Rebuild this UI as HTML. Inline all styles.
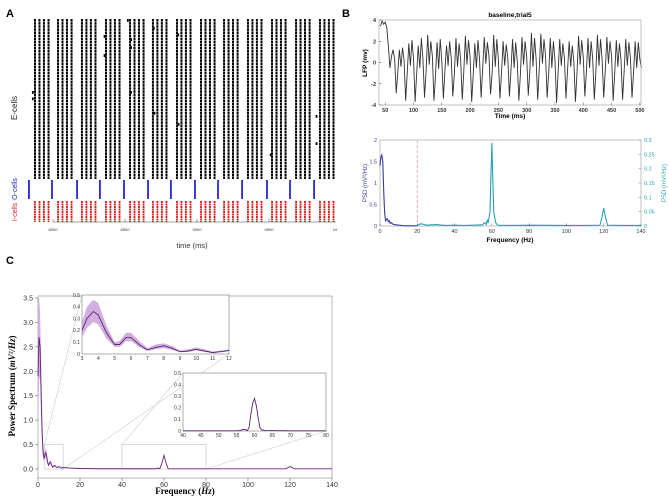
<!DOCTYPE html>
<html><head><meta charset="utf-8"><style>
html,body{margin:0;padding:0;background:#fff;}
svg{display:block;font-family:"Liberation Sans",sans-serif;}
</style></head><body>
<svg id="fig" width="669" height="499" viewBox="0 0 669 499" xmlns="http://www.w3.org/2000/svg">
<text x="6" y="17" font-size="11" font-weight="bold">A</text>
<text x="342" y="17" font-size="11" font-weight="bold">B</text>
<text x="6" y="264" font-size="11" font-weight="bold">C</text>
<text transform="translate(17,108) rotate(-90)" font-size="8" text-anchor="middle" fill="#222">E-cells</text>
<text transform="translate(17,189) rotate(-90)" font-size="7" text-anchor="middle" fill="#2222cc">O-cells</text>
<text transform="translate(17,212) rotate(-90)" font-size="7" text-anchor="middle" fill="#dd2222">I-cells</text>
<text x="192" y="248" font-size="7.5" text-anchor="middle" fill="#333">time (ms)</text>
<text x="510" y="17" font-size="6.5" font-weight="bold" text-anchor="middle">baseline,trial5</text>
<text x="510" y="118" font-size="6.5" font-weight="bold" text-anchor="middle">Time (ms)</text>
<text transform="translate(367,63) rotate(-90)" font-size="6.5" font-weight="bold" text-anchor="middle">LFP (mv)</text>
<text x="510" y="242" font-size="6.5" font-weight="bold" text-anchor="middle">Frequency (Hz)</text>
<text transform="translate(367,183) rotate(-90)" font-size="6" text-anchor="middle" fill="#3a3a9a">PSD (mV²/Hz)</text>
<text transform="translate(666,183) rotate(-90)" font-size="6" text-anchor="middle" fill="#2a9fb0">PSD (mV²/Hz)</text>
<text x="185" y="494" font-size="9" font-weight="bold" font-family="Liberation Serif,serif" text-anchor="middle">Frequency (<tspan font-style="italic">Hz</tspan>)</text>
<text transform="translate(15,386) rotate(-90)" font-size="9" font-weight="bold" font-family="Liberation Serif,serif" text-anchor="middle">Power Spectrum (<tspan font-style="italic">mV²/Hz</tspan>)</text>
</svg>
<script>
// ---- Panel A data ----
const eGroupStarts = [7875,8035,8201,8368,8535,8694,8861,9028,9188,9354,9521,9688,9854];
const eGroupOffsets = [0,31,62,94];
const oSpikes = [7833,7993,8167,8326,8493,8660,8819,8986,9146,9313,9486,9646,9813];
const rasterTicks = [8000,8500,9000,9500];
const rasterTickLabels = ["8000","8500","9000","9500"];
const strayE = [[7860,0.45],[7860,0.49],[8358,0.1],[8358,0.22],[8520,0.0],[8542,0.12],[8542,0.17],[8542,0.45],[8700,0.05],[8705,0.58],[8870,0.09],[8872,0.65],[9512,0.84],[9830,0.6],[9830,0.77]];
// ---- Panel B data ----
const lfpStart = 41.67, lfpStep = 2.7778;
const lfpValues = [3.4,3.9,3.6,3.8,3.3,1.5,-0.5,0.6,1.2,0.3,
-2.9,-0.9,1.2,-0.4,1.4,0.2, -3.6,-1.0,1.8,-0.3,2.1,0.4, -3.7,-1.1,1.6,-0.5,2.3,0.3, -3.3,-0.8,2.6,-0.2,2.0,0.6,
-3.6,-1.2,1.9,-0.6,2.2,0.1, -3.4,-0.7,1.6,-0.3,2.0,0.4, -3.2,-1.0,2.3,-0.4,1.8,0.2, -3.5,-0.8,2.5,-0.2,2.1,0.5,
-3.7,-1.1,1.8,-0.5,2.1,0.3, -3.3,-0.6,2.4,-0.1,1.9,0.6, -3.0,-1.0,2.6,-0.4,2.2,0.2, -3.4,-0.9,2.0,-0.3,1.7,0.4,
-3.2,-0.7,2.2,-0.5,1.9,0.1, -3.6,-1.1,2.4,-0.2,2.0,0.5, -3.1,-0.8,2.8,-0.4,2.3,0.3, -3.5,-0.6,2.7,-0.1,2.2,0.6,
-3.3,-1.0,2.3,-0.5,2.0,0.2, -3.8,-0.9,2.2,-0.3,1.8,0.4, -3.4,-0.7,2.0,-0.4,1.6,0.1, -3.7,-1.0,2.5,-0.2,2.1,0.5,
-3.2,-0.8,2.3,-0.5,2.0,0.3, -3.5,-0.9,2.6,-0.3,2.2,0.2, -3.3,-0.7,2.4,-0.1,2.0,0.6, -3.6,-1.0,2.1,-0.4,1.8,0.2,
-3.5,-0.8,2.2,-0.3,1.9,0.4, -3.3,-0.9,2.0,-0.5,1.9,0.3, -0.5];
const lfpYTicks = [4,2,0,-2,-4];
const lfpXTicks = [50,100,150,200,250,300,350,400,450,500];
const psdLowF = [0,0.5,1,1.5,2,2.5,3,3.5,4,4.5,5,5.5,6,7,8,10,12,15,20];
const psdLowV = [1.4,1.6,1.65,1.5,0.8,0.3,0.12,0.15,0.17,0.1,0.12,0.06,0.08,0.04,0.03,0.02,0.01,0.005,0.005];
const psdHighF = [20,22,25,30,35,40,45,50,55,56,57,57.5,58,59,60,61,62,63,70,80,100,110,118,119,120,121,122,130,140];
const psdHighV = [0.002,0.008,0.003,0.005,0.002,0.003,0.002,0.003,0.004,0.012,0.006,0.02,0.01,0.05,0.29,0.05,0.012,0.003,0.002,0.003,0.002,0.002,0.003,0.03,0.062,0.03,0.003,0.002,0.002];
const psdXTicks = [0,20,40,60,80,100,120,140];
const psdLeftTicks = [0,0.5,1,1.5,2];
const psdRightTicks = [0,0.05,0.1,0.15,0.2,0.25,0.3];
// ---- Panel C data ----
const specF = [0,0.5,1,1.5,2,2.5,3,3.5,4,4.5,5,5.5,6,6.5,7,8,9,10,11,12,15,20,30,56,57,58,59,60,61,62,100,118,119,120,121,122,140];
const specMean = [1.9,2.7,2.5,1.5,0.7,0.3,0.22,0.33,0.3,0.15,0.08,0.12,0.14,0.08,0.04,0.07,0.03,0.05,0.02,0.03,0.02,0.01,0.005,0.005,0.02,0.005,0.12,0.28,0.12,0.005,0.003,0.003,0.03,0.05,0.03,0.003,0.003];
const specUpper = [3.5,3.5,3.2,2.2,1.1,0.45,0.3,0.42,0.4,0.22,0.11,0.16,0.18,0.11,0.06,0.09,0.04,0.06,0.03,0.04,0.03,0.015,0.008,0.008,0.025,0.008,0.14,0.31,0.14,0.008,0.005,0.005,0.035,0.058,0.035,0.005,0.005];
const specLower = [1.0,1.8,1.9,1.0,0.4,0.2,0.15,0.25,0.2,0.1,0.06,0.09,0.1,0.05,0.025,0.05,0.02,0.04,0.012,0.02,0.012,0.006,0.003,0.003,0.015,0.003,0.1,0.25,0.1,0.003,0.001,0.001,0.025,0.045,0.025,0.001,0.001];
const specXTicks = [0,20,40,60,80,100,120,140];
const specYTicks = [0,0.5,1,1.5,2,2.5,3,3.5];
const inset1F = [3,3.3,3.7,4,4.5,5,5.3,5.7,6,6.5,7,7.5,8,8.5,9,9.5,10,10.5,11,11.5,12];
const inset1Mean = [0.2,0.3,0.36,0.33,0.18,0.08,0.08,0.14,0.14,0.08,0.035,0.055,0.07,0.05,0.02,0.025,0.04,0.025,0.012,0.02,0.03];
const inset1Upper = [0.27,0.4,0.46,0.43,0.24,0.1,0.11,0.18,0.18,0.11,0.05,0.08,0.09,0.07,0.03,0.04,0.055,0.04,0.02,0.03,0.04];
const inset1Lower = [0.14,0.22,0.27,0.25,0.13,0.06,0.06,0.11,0.11,0.06,0.025,0.04,0.05,0.035,0.014,0.018,0.03,0.018,0.008,0.014,0.022];
const inset1XTicks = [3,4,5,6,7,8,9,10,11,12];
const insetYTicks = [0,0.1,0.2,0.3,0.4,0.5];
const inset2F = [40,45,50,55,56,57,58,58.5,59,59.5,60,60.5,61,61.5,62,63,70,80];
const inset2V = [0.002,0.002,0.002,0.002,0.005,0.015,0.005,0.03,0.15,0.24,0.28,0.22,0.12,0.03,0.01,0.005,0.002,0.002];
const inset2XTicks = [40,45,50,55,60,65,70,75,80];

const NS = "http://www.w3.org/2000/svg";
const svg = document.getElementById('fig');
function mk(tag, attrs, parent){ const e=document.createElementNS(NS,tag); for(const k in attrs) e.setAttribute(k,attrs[k]); (parent||svg).appendChild(e); return e; }
function lin(d0,d1,r0,r1){ return v => r0 + (v-d0)*(r1-r0)/(d1-d0); }
function pts(xs,ys,sx,sy){ return xs.map((x,i)=>sx(x).toFixed(2)+','+sy(ys[i]).toFixed(2)).join(' '); }

// ---- Panel A ----
const ax = lin(8000,8500,53,125);
const gA = mk('g',{});


const clipA = mk('clipPath',{id:'clipA'}, gA);
mk('rect',{x:28,y:15,width:308,height:210}, clipA);
const gAi = mk('g',{'clip-path':'url(#clipA)'}, gA);
eGroupStarts.forEach((t,gi)=>{
  eGroupOffsets.forEach((o,j)=>{
    const x = ax(t+o);
    const l = mk('line',{x1:x,y1:19,x2:x,y2:179,stroke:'#000','stroke-width':2,'stroke-dasharray':'2.6 0.5'}, gAi);
    
    
    const r = mk('line',{x1:x,y1:201,x2:x,y2:222,stroke:'#e01818','stroke-width':1.8,'stroke-dasharray':'2 0.5'}, gAi);
    
    
  });
});
oSpikes.forEach(t=>{
  const x = ax(t);
  const l = mk('line',{x1:x,y1:180,x2:x,y2:199,stroke:'#1a1ad0','stroke-width':1.7}, gAi);
  
  
});
strayE.forEach(s=>{
  const r = mk('rect',{x:ax(s[0])-0.9,y:19+s[1]*160,width:1.8,height:2.8,fill:'#000'}, gAi);
  
  
});
const axA = mk('line',{x1:53,y1:222,x2:336,y2:222,stroke:'#444','stroke-width':0.6}, gA);


rasterTicks.forEach((t,i)=>{
  const x = ax(t);
  mk('line',{x1:x,y1:222,x2:x,y2:219,stroke:'#444','stroke-width':0.5}, gA);
  const tx = mk('text',{x:x,y:231,'font-size':4,'text-anchor':'middle',fill:'#333'}, gA);
  tx.textContent = rasterTickLabels[i];
  
  
});
const t10 = mk('text',{x:335,y:231,'font-size':4,'text-anchor':'middle',fill:'#333'}, gA);
t10.textContent='10';



// ---- Panel B top ----
const bx = lin(39,502,379,641), by = lin(-4,4,105,20);
const gB = mk('g',{});


const lfpT = lfpValues.map((v,i)=>lfpStart+i*lfpStep);
const lfpLine = mk('polyline',{points:pts(lfpT,lfpValues,bx,by),fill:'none',stroke:'#333','stroke-width':0.9}, gB);


const fB = mk('rect',{x:379,y:20,width:262,height:85,fill:'none',stroke:'#999','stroke-width':0.6}, gB);


lfpYTicks.forEach(v=>{
  const y=by(v);
  mk('line',{x1:379,y1:y,x2:381.5,y2:y,stroke:'#555','stroke-width':0.5}, gB);
  const t=mk('text',{x:376,y:y+2,'font-size':5.5,'text-anchor':'end','font-weight':'bold',fill:'#333'}, gB);
  t.textContent=v;
  
  
});
lfpXTicks.forEach(v=>{
  const x=bx(v);
  mk('line',{x1:x,y1:105,x2:x,y2:102.5,stroke:'#555','stroke-width':0.5}, gB);
  const t=mk('text',{x:x,y:112,'font-size':5.5,'text-anchor':'middle','font-weight':'bold',fill:'#333'}, gB);
  t.textContent=v;
  
  
});

// ---- Panel B bottom ----
const px = lin(0,140,380,641), pyL = lin(0,2,226,140), pyR = lin(0,0.3,226,140);
const gP = mk('g',{});


const fP = mk('rect',{x:380,y:140,width:261,height:86,fill:'none',stroke:'#999','stroke-width':0.6}, gP);


const dash = mk('line',{x1:px(20),y1:140,x2:px(20),y2:226,stroke:'#e89aa8','stroke-width':0.8,'stroke-dasharray':'3 2'}, gP);


const lowL = mk('polyline',{points:pts(psdLowF,psdLowV,px,pyL),fill:'none',stroke:'#3a3a9a','stroke-width':1.1}, gP);


const highL = mk('polyline',{points:pts(psdHighF,psdHighV,px,pyR),fill:'none',stroke:'#2a9fb0','stroke-width':1.1}, gP);


psdXTicks.forEach(v=>{
  const x=px(v);
  mk('line',{x1:x,y1:226,x2:x,y2:223.5,stroke:'#555','stroke-width':0.5}, gP);
  const t=mk('text',{x:x,y:233,'font-size':5.5,'text-anchor':'middle',fill:'#333'}, gP);
  t.textContent=v;
  
  
});
psdLeftTicks.forEach(v=>{
  const y=pyL(v);
  const t=mk('text',{x:377,y:y+2,'font-size':5.5,'text-anchor':'end',fill:'#3a3a9a'}, gP);
  t.textContent=v;
  
  
});
psdRightTicks.forEach(v=>{
  const y=pyR(v);
  mk('line',{x1:641,y1:y,x2:638.5,y2:y,stroke:'#2a9fb0','stroke-width':0.5}, gP);
  const t=mk('text',{x:644,y:y+2,'font-size':5.5,fill:'#2a9fb0'}, gP);
  t.textContent=v;
  
  
});

// ---- Panel C ----
const cx = lin(0,140,38,332), cy = lin(0,3.5,469,298);
const gC = mk('g',{});


const fC = mk('rect',{x:38,y:296,width:294,height:182,fill:'none',stroke:'#888','stroke-width':0.6}, gC);


const zb1 = mk('rect',{x:cx(3),y:cy(0.5),width:cx(12)-cx(3),height:cy(0)-cy(0.5),fill:'none',stroke:'#ccc','stroke-width':0.7}, gC);


const zb2 = mk('rect',{x:cx(40),y:cy(0.5),width:cx(80)-cx(40),height:cy(0)-cy(0.5),fill:'none',stroke:'#ccc','stroke-width':0.7}, gC);


[[cx(3),cy(0.5),82,295],[cx(12),cy(0),229,354],[cx(40),cy(0.5),183,373],[cx(80),cy(0),326,431]].forEach(c=>{
  const l=mk('line',{x1:c[0],y1:c[1],x2:c[2],y2:c[3],stroke:'#ccc','stroke-width':0.6}, gC);
  
  
});
const band = mk('polygon',{points:pts(specF,specUpper,cx,cy)+' '+pts(specF.slice().reverse(),specLower.slice().reverse(),cx,cy),fill:'#c9a0d8',opacity:0.8}, gC);


const mline = mk('polyline',{points:pts(specF,specMean,cx,cy),fill:'none',stroke:'#6a2080','stroke-width':0.9}, gC);


specXTicks.forEach(v=>{
  const x=cx(v);
  mk('line',{x1:x,y1:478,x2:x,y2:481,stroke:'#555','stroke-width':0.5}, gC);
  const t=mk('text',{x:x,y:487,'font-size':7,'text-anchor':'middle',fill:'#333'}, gC);
  t.textContent=v;
  
  
});
specYTicks.forEach(v=>{
  const y=cy(v);
  mk('line',{x1:38,y1:y,x2:35,y2:y,stroke:'#555','stroke-width':0.5}, gC);
  const t=mk('text',{x:33,y:y+2.5,'font-size':7,'text-anchor':'end',fill:'#333'}, gC);
  t.textContent=v.toFixed(1);
  
  
});
const i1x = lin(3,12,82,229), i1y = lin(0,0.5,354,295);
const gI1 = mk('g',{}, gC);


mk('rect',{x:82,y:295,width:147,height:59,fill:'#fff',stroke:'#777','stroke-width':0.6}, gI1);
const b1 = mk('polygon',{points:pts(inset1F,inset1Upper,i1x,i1y)+' '+pts(inset1F.slice().reverse(),inset1Lower.slice().reverse(),i1x,i1y),fill:'#c9a0d8',opacity:0.85}, gI1);


const m1 = mk('polyline',{points:pts(inset1F,inset1Mean,i1x,i1y),fill:'none',stroke:'#4a1860','stroke-width':0.8}, gI1);


inset1XTicks.forEach(v=>{
  const t=mk('text',{x:i1x(v),y:360,'font-size':5,'text-anchor':'middle',fill:'#333'}, gI1);
  t.textContent=v;
  
  
});
insetYTicks.forEach(v=>{
  const t=mk('text',{x:80,y:i1y(v)+1.8,'font-size':5,'text-anchor':'end',fill:'#333'}, gI1);
  t.textContent=v===0?'0':v;
  
  
});
const i2x = lin(40,80,183,326), i2y = lin(0,0.5,431,373);
const gI2 = mk('g',{}, gC);


mk('rect',{x:183,y:373,width:143,height:58,fill:'#fff',stroke:'#777','stroke-width':0.6}, gI2);
const m2 = mk('polyline',{points:pts(inset2F,inset2V,i2x,i2y),fill:'none',stroke:'#5a2070','stroke-width':0.9}, gI2);


inset2XTicks.forEach(v=>{
  const t=mk('text',{x:i2x(v),y:437,'font-size':5,'text-anchor':'middle',fill:'#333'}, gI2);
  t.textContent=v;
  
  
});
insetYTicks.forEach(v=>{
  const t=mk('text',{x:181,y:i2y(v)+1.8,'font-size':5,'text-anchor':'end',fill:'#333'}, gI2);
  t.textContent=v===0?'0':v;
  
  
});
</script>
</body></html>
